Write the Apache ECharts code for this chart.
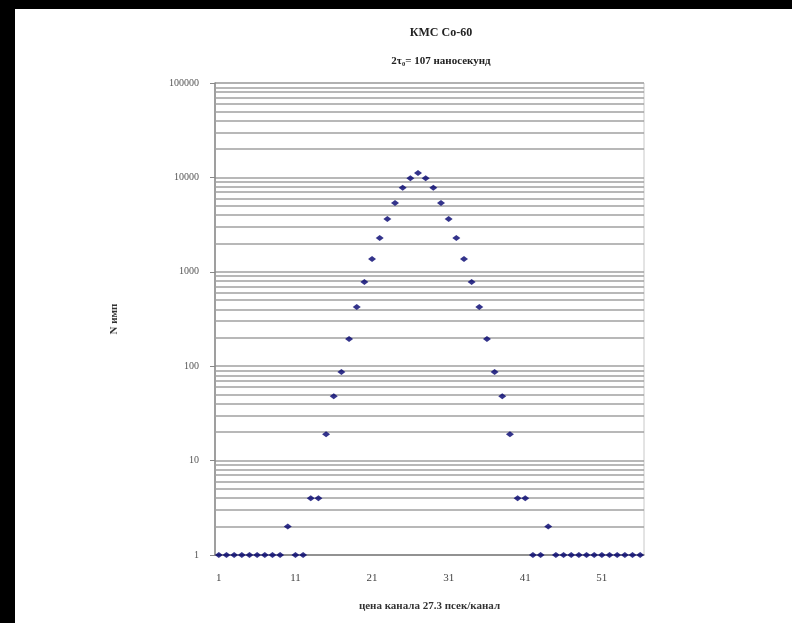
<!DOCTYPE html>
<html lang="ru">
<head>
<meta charset="UTF-8">
<title>КМС Co-60</title>
<style>
  * { margin: 0; padding: 0; }
  html, body { width: 100%; height: 100%; background: #000; }
  #chart { position: absolute; left: 15px; top: 9px; width: 777px; height: 614px; background: #fff; }
</style>
</head>
<body>
<div id="chart"></div>
<script src="https://cdn.jsdelivr.net/npm/echarts@6/dist/echarts.min.js"></script>
<script>
// номера каналов 1..56
var channels = [];
for (var i = 1; i <= 56; i++) channels.push(String(i));

// число отсчётов в канале
var counts = [1, 1, 1, 1, 1, 1, 1, 1, 1, 2, 1, 1, 4, 4, 19, 48, 87, 194, 424, 778,
  1367, 2280, 3630, 5360, 7750, 9800, 11150, 9800, 7750, 5360, 3630, 2280, 1367, 778,
  424, 194, 87, 48, 19, 4, 4, 1, 1, 2, 1, 1, 1, 1, 1, 1, 1, 1, 1, 1, 1, 1];

var titleText = 'КМС Co-60';
var subText = '2τ\u2080= 107 наносекунд';
var xName = 'цена канала 27.3 псек/канал';
var yName = 'N имп';

// промежуточные линии сетки 2..9 в каждой декаде
var minorLines = [];
for (var d = 1; d < 100000; d *= 10) {
  for (var m = 2; m <= 9; m++) minorLines.push({ yAxis: m * d });
}

var serif = 'Liberation Serif';
var chart = echarts.init(document.getElementById('chart'));
chart.setOption({
  animation: false,
  title: {
    text: titleText,
    subtext: subText,
    left: 421, top: 13, textAlign: 'center',
    itemGap: 17,
    textStyle: { fontFamily: serif, fontSize: 12, fontWeight: 'bold', color: '#222' },
    subtextStyle: { fontFamily: serif, fontSize: 11, fontWeight: 'bold', color: '#222' }
  },
  grid: { left: 200, top: 74, width: 429, height: 472, show: true, borderColor: '#c8c8c8', borderWidth: 1 },
  xAxis: {
    type: 'category',
    data: channels,
    boundaryGap: true,
    name: xName,
    nameLocation: 'middle',
    nameGap: 46,
    nameTextStyle: { fontFamily: serif, fontSize: 11, fontWeight: 'bold', color: '#333' },
    axisLine: { lineStyle: { color: '#888', width: 1.5 } },
    axisTick: { interval: 0, length: 3, lineStyle: { color: '#999' } },
    axisLabel: { interval: 9, margin: 18, fontFamily: serif, fontSize: 11, color: '#444' },
    splitLine: { show: false }
  },
  yAxis: {
    type: 'log',
    logBase: 10,
    min: 1,
    max: 100000,
    name: yName,
    nameLocation: 'middle',
    nameGap: 95,
    nameTextStyle: { fontFamily: serif, fontSize: 11, fontWeight: 'bold', color: '#333' },
    axisLine: { show: true, lineStyle: { color: '#888', width: 1.5 } },
    axisTick: { show: true, length: 5, lineStyle: { color: '#888' } },
    axisLabel: {
      margin: 16, fontFamily: serif, fontSize: 10, color: '#555',
      formatter: function (v) { return String(Math.round(v)); }
    },
    splitLine: { show: true, lineStyle: { color: '#a0a0a0', width: 1.5 } }
  },
  series: [{
    type: 'scatter',
    data: counts,
    symbol: 'diamond',
    symbolSize: [8, 6],
    itemStyle: { color: '#00006e' },
    z: 5,
    markLine: {
      silent: true,
      symbol: 'none',
      label: { show: false },
      lineStyle: { color: '#a0a0a0', width: 1.5, type: 'solid' },
      data: minorLines,
      z: 1
    }
  }]
});
</script>
</body>
</html>
